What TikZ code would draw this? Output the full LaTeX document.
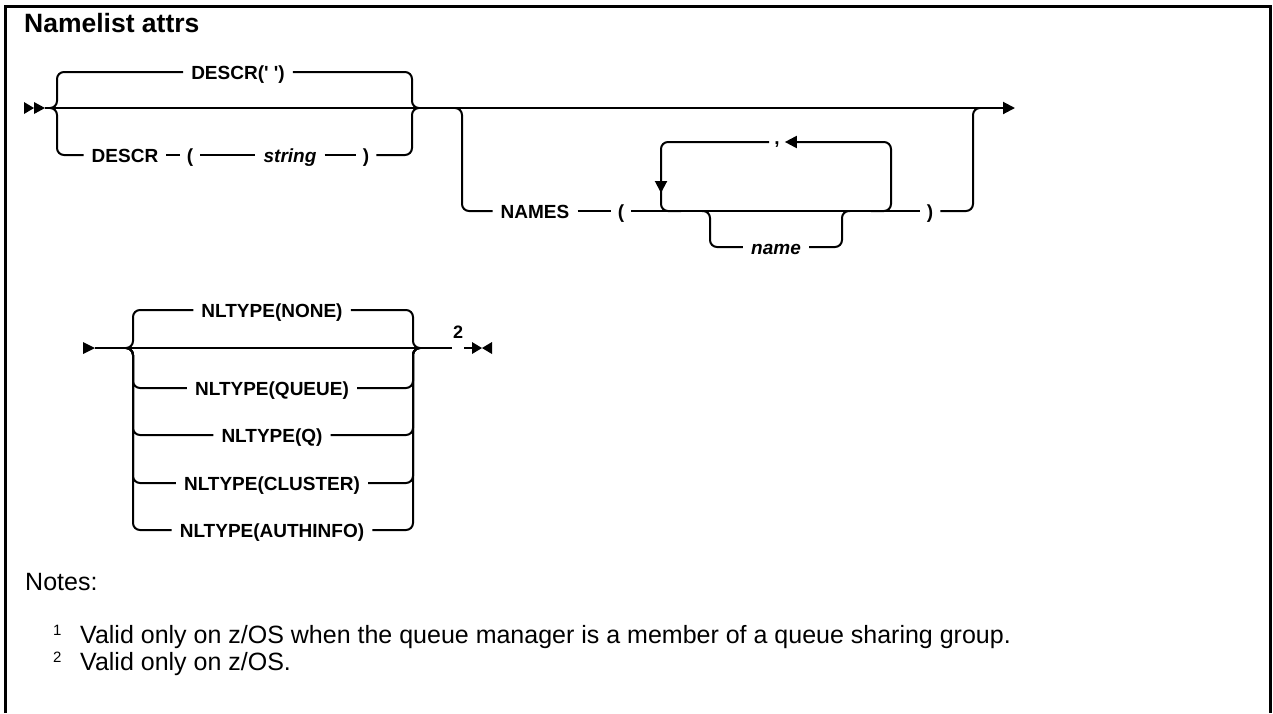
\documentclass[tikz,border=0pt]{standalone}
\usepackage{fontspec}
\setmainfont{Liberation Sans}
\usepackage{tikz}
\usetikzlibrary{arrows.meta,positioning,calc}
\definecolor{ink}{HTML}{000000}
\tikzset{
  rail/.style={draw=ink, line width=2pt},
  railbend/.style={rail, rounded corners=7pt},
  railtip/.style={-{Triangle[length=12pt,width=12pt]}},
  kw/.style={inner xsep=8pt, inner ysep=0pt, text height=14pt, text depth=0pt,
    font=\fontsize{19}{22}\selectfont\bfseries, text=ink},
  var/.style={kw, font=\fontsize{19}{22}\selectfont\bfseries\itshape},
  sym/.style={kw, inner xsep=7pt},
  sepkw/.style={kw, inner xsep=5pt, text height=5pt},
  fnref/.style={anchor=base, inner xsep=1pt, inner ysep=0pt,
    font=\fontsize{18}{20}\selectfont\bfseries},
  notetext/.style={anchor=base west, inner sep=0pt,
    font=\fontsize{25}{28}\selectfont},
  notemark/.style={anchor=base west, inner sep=0pt,
    font=\fontsize{15}{16}\selectfont},
  marker/.style={fill=ink},
}
\begin{document}
\begin{tikzpicture}[x=1pt,y=-1pt]
  \useasboundingbox (0,0) rectangle (1273,713);
  \draw[ink, line width=3pt] (5,713) -- (5,6) -- (1270,6) -- (1270,713);
  \node[anchor=base west, inner sep=0pt, font=\fontsize{26.5}{30}\selectfont\bfseries]
    (title) at (24,32) {Namelist attrs};

  \coordinate (startA) at (45,108);
  \coordinate (jA) at (57,108);
  \coordinate (jB) at (412,108);
  \coordinate (jC) at (462,108);
  \coordinate (jD) at (973,108);
  \coordinate (endA) at (1015,108);
  \fill[marker] (startA) ++(-21,-6) -- ++(10,6) -- ++(-10,6) -- cycle;
  \fill[marker] (startA) ++(-11,-6) -- ++(11,6) -- ++(-11,6) -- cycle;
  \draw[rail, railtip] (startA) -- (endA);

  \node[kw] (descrdef) at (238,72) {DESCR(\textquotesingle\ \textquotesingle)};
  \node[kw] (descrkw) at (125,155) {DESCR};
  \node[sym] (lparA) at (190,155) {(};
  \node[var] (strvar) at (290,155) {string};
  \node[sym] (rparA) at (366,155) {)};
  \draw[railbend] ($(jA)+(-7,0)$) -| (jA |- descrdef) -- (descrdef.west);
  \draw[railbend] (descrdef.east) -- (jB |- descrdef) |- ($(jB)+(7,0)$);
  \draw[railbend] ($(jA)+(-7,0)$) -| (jA |- descrkw) -- (descrkw.west);
  \foreach \a/\b in {descrkw/lparA, lparA/strvar, strvar/rparA}
    \draw[rail] (\a.east) -- (\b.west);
  \draw[railbend] (rparA.east) -- (jB |- rparA) |- ($(jB)+(7,0)$);

  \node[kw] (names) at (535,211) {NAMES};
  \node[sym] (lparB) at (621,211) {(};
  \node[sym] (rparB) at (930,211) {)};
  \node[sepkw] (sep) at (777,142) {,};
  \node[var] (namevar) at (776,247) {name};
  \coordinate (loopL) at (661,211);
  \coordinate (loopR) at (891,211);
  \coordinate (optL) at (710,211);
  \coordinate (optR) at (842,211);
  \draw[railbend] ($(jC)+(-7,0)$) -| (jC |- names) -- (names.west);
  \draw[rail] (names.east) -- (lparB.west);
  \draw[rail] (lparB.east) -- (rparB.west);
  \draw[railbend] (rparB.east) -- (jD |- rparB) |- ($(jD)+(7,0)$);
  \draw[railbend] ($(loopR)+(-20,0)$) -| (loopR |- sep) -- ($(sep.east)+(12,0)$);
  \draw[rail, railtip] ($(sep.east)+(14,0)$) -- (sep.east);
  \draw[railbend] (sep.west) -| (loopL) -- ++(20,0);
  \draw[rail, railtip] ($(loopL)+(0,-34)$) -- ($(loopL)+(0,-18)$);
  \draw[railbend] ($(optL)+(-8,0)$) -| (optL |- namevar) -- (namevar.west);
  \draw[railbend] (namevar.east) -- (optR |- namevar) |- ($(optR)+(8,0)$);

  \coordinate (startB) at (95,348);
  \coordinate (jE) at (133,348);
  \coordinate (jF) at (413,348);
  \fill[marker] (startB) ++(-12,-6) -- ++(12,6) -- ++(-12,6) -- cycle;
  \foreach \nm/\yy/\txt in {nlnone/310/NONE, nlqueue/388/QUEUE, nlq/435/Q,
      nlcluster/483/CLUSTER, nlauth/530/AUTHINFO} {
    \node[kw] (\nm) at (272,\yy) {NLTYPE(\txt)};
    \draw[railbend] ($(jE)+(-7,0)$) -| (jE |- \nm) -- (\nm.west);
    \draw[railbend] (\nm.east) -- (jF |- \nm) |- ($(jF)+(7,0)$);
  }
  \node[fnref] (fn2) at (458,338) {2};
  \coordinate (endB) at (472,348);
  \draw[rail] (startB) -- (fn2.west |- jF);
  \draw[rail] (fn2.east |- jF) -- (endB);
  \fill[marker] (endB) ++(0,-6) -- ++(10,6) -- ++(-10,6) -- cycle;
  \fill[marker] (endB) ++(20,-6) -- ++(-10,6) -- ++(10,6) -- cycle;

  \node[notetext] (notes) at (25,590) {Notes:};
  \node[notemark] (mark1) at (53,635) {1};
  \node[notetext] (note1) at (80,643) {Valid only on z/OS when the queue manager is a member of a queue sharing group.};
  \node[notemark] (mark2) at (53,662) {2};
  \node[notetext] (note2) at (80,670) {Valid only on z/OS.};
\end{tikzpicture}
\end{document}
